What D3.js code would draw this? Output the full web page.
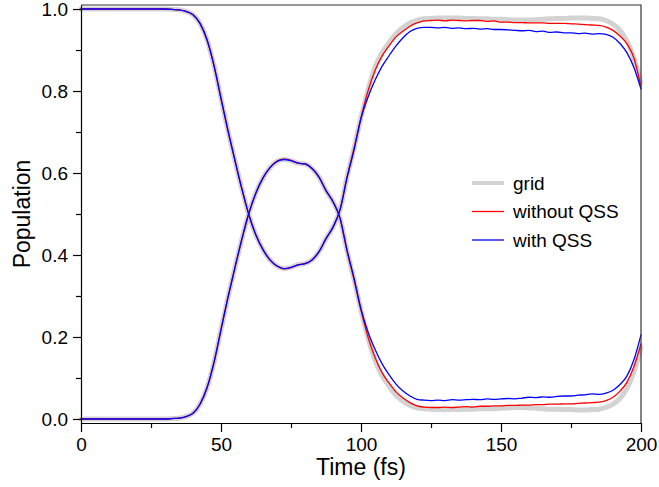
<!DOCTYPE html>
<html>
<head>
<meta charset="utf-8">
<script src="https://cdn.jsdelivr.net/npm/d3@7"></script>
<style>
html,body{margin:0;padding:0;background:#fff;}
svg{display:block;}
text{font-family:"Liberation Sans",Arial,sans-serif;fill:#000;}
</style>
</head>
<body>
<svg id="chart" width="659" height="487"></svg>
<script>
// ---- data ----
const time = [0,2.5,5,7.5,10,12.5,15,17.5,20,22.5,
  25,27.5,30,32.5,35,37.5,40,42.5,45,47.5,
  50,52.5,55,57.5,60,62.5,65,67.5,70,72.5,
  75,77.5,80,82.5,85,87.5,90,92.5,95,97.5,
  100,102.5,105,107.5,110,112.5,115,117.5,120,122.5,
  125,127.5,130,132.5,135,137.5,140,142.5,145,147.5,
  150,152.5,155,157.5,160,162.5,165,167.5,170,172.5,
  175,177.5,180,182.5,185,187.5,190,192.5,195,197.5,200];

// population of state initially occupied (starts at 1)
const gridA = [1,1,1,1,1,1,1,1,1,1,
  1,1,1,0.999,0.998,0.994,0.986,0.965,0.925,0.862,
  0.782,0.703,0.63,0.56,0.497,0.448,0.413,0.388,0.373,0.367,
  0.370,0.376,0.379,0.388,0.408,0.44,0.468,0.51,0.59,0.66,
  0.735,0.802,0.858,0.893,0.918,0.94,0.955,0.966,0.972,0.976,
  0.977,0.978,0.978,0.978,0.978,0.977,0.977,0.976,0.976,0.975,
  0.975,0.974,0.973,0.973,0.973,0.974,0.975,0.976,0.977,0.977,
  0.978,0.978,0.978,0.977,0.976,0.972,0.963,0.948,0.922,0.88,0.82];
const noQssA = [1,1,1,1,1,1,1,1,1,1,
  1,1,1,0.999,0.998,0.994,0.986,0.965,0.925,0.862,
  0.782,0.703,0.63,0.56,0.497,0.448,0.413,0.388,0.373,0.366,
  0.369,0.376,0.379,0.388,0.408,0.44,0.468,0.51,0.59,0.66,
  0.735,0.80,0.85,0.885,0.91,0.932,0.946,0.958,0.966,0.971,
  0.972,0.973,0.971,0.973,0.972,0.971,0.972,0.972,0.970,0.971,
  0.968,0.968,0.967,0.967,0.966,0.966,0.966,0.965,0.965,0.965,
  0.964,0.963,0.962,0.961,0.960,0.956,0.948,0.934,0.915,0.88,0.81];
const qssA = [1,1,1,1,1,1,1,1,1,1,
  1,1,1,0.999,0.998,0.994,0.986,0.965,0.925,0.862,
  0.782,0.703,0.63,0.56,0.497,0.448,0.413,0.388,0.373,0.367,
  0.370,0.376,0.379,0.388,0.408,0.44,0.468,0.51,0.588,0.656,
  0.733,0.785,0.826,0.86,0.886,0.91,0.93,0.945,0.953,0.955,
  0.955,0.954,0.955,0.953,0.954,0.952,0.953,0.951,0.952,0.950,
  0.950,0.949,0.948,0.947,0.948,0.945,0.946,0.943,0.944,0.942,
  0.942,0.940,0.941,0.939,0.940,0.938,0.931,0.916,0.893,0.857,0.805];

// population of state initially empty (starts at 0)
const gridB = [0,0,0,0,0,0,0,0,0,0,
  0,0,0,0.001,0.002,0.006,0.014,0.036,0.076,0.138,
  0.218,0.297,0.37,0.44,0.503,0.552,0.588,0.613,0.628,0.633,
  0.630,0.624,0.622,0.611,0.59,0.557,0.53,0.49,0.41,0.34,
  0.265,0.198,0.143,0.106,0.08,0.058,0.043,0.033,0.027,0.025,
  0.024,0.023,0.023,0.023,0.023,0.024,0.024,0.025,0.025,0.025,
  0.026,0.027,0.028,0.028,0.027,0.026,0.025,0.024,0.024,0.023,
  0.023,0.022,0.022,0.023,0.024,0.028,0.036,0.05,0.075,0.115,0.175];
const noQssB = [0,0,0,0,0,0,0,0,0,0,
  0,0,0,0.001,0.002,0.006,0.014,0.036,0.076,0.138,
  0.218,0.297,0.37,0.44,0.503,0.552,0.588,0.613,0.629,0.634,
  0.631,0.624,0.622,0.611,0.59,0.557,0.53,0.49,0.41,0.34,
  0.265,0.20,0.15,0.113,0.088,0.066,0.051,0.04,0.032,0.029,
  0.028,0.028,0.029,0.028,0.029,0.030,0.029,0.031,0.031,0.032,
  0.032,0.033,0.033,0.034,0.034,0.035,0.035,0.036,0.036,0.037,
  0.037,0.038,0.039,0.040,0.041,0.045,0.053,0.068,0.09,0.128,0.183];
const qssB = [0,0,0,0,0,0,0,0,0,0,
  0,0,0,0.001,0.002,0.006,0.014,0.036,0.076,0.138,
  0.218,0.297,0.37,0.44,0.503,0.552,0.588,0.613,0.628,0.633,
  0.630,0.624,0.622,0.611,0.59,0.557,0.53,0.49,0.412,0.344,
  0.268,0.212,0.17,0.135,0.108,0.085,0.068,0.056,0.048,0.046,
  0.045,0.046,0.045,0.047,0.046,0.047,0.048,0.047,0.049,0.048,
  0.049,0.050,0.049,0.051,0.053,0.052,0.054,0.053,0.055,0.056,
  0.056,0.058,0.059,0.061,0.060,0.063,0.070,0.084,0.105,0.145,0.205];

const xMajor = [0,50,100,150,200];
const xMinor = [25,75,125,175];
const yMajor = [0,0.2,0.4,0.6,0.8,1.0];
const yMinor = [0.1,0.3,0.5,0.7,0.9];
const seriesNames = ["grid","without QSS","with QSS"];
const seriesColors = ["#d3d3d3","#ff0000","#0000ff"];
const seriesWidths = [5,1.3,1.3];

// ---- chart ----
const svg = d3.select("#chart");
const pL = 81, pR = 641, pT = 5, pB = 423;
const x = d3.scaleLinear().domain([0,200]).range([pL,pR]);
const y = d3.scaleLinear().domain([-0.0098,1.0098]).range([pB,pT]);

const series = [
  {name:seriesNames[0], color:seriesColors[0], w:seriesWidths[0], data:[gridA,gridB]},
  {name:seriesNames[1], color:seriesColors[1], w:seriesWidths[1], data:[noQssA,noQssB]},
  {name:seriesNames[2], color:seriesColors[2], w:seriesWidths[2], data:[qssA,qssB]}
];

const line = d3.line().x(d=>x(d[0])).y(d=>y(d[1])).curve(d3.curveMonotoneX);

const g = svg.append("g");
series.forEach((s,i)=>{
  s.data.forEach(arr=>{
    const pts = time.map((t,j)=>[t,arr[j]]);
    g.append("path").datum(pts)
      .attr("d", line)
      .attr("fill","none")
      .attr("stroke",s.color)
      .attr("stroke-width",s.w)
      .attr("stroke-linejoin","round")
      .attr("stroke-linecap","round");
  });
});

// frame (top & right)
svg.append("path")
  .attr("d",`M${pL},${pT}H${pR}V${pB}`)
  .attr("fill","none").attr("stroke","#333").attr("stroke-width",1.2);

// x axis
const xAxis = svg.append("g").attr("transform",`translate(0,${pB})`)
  .call(d3.axisBottom(x).tickValues(xMajor).tickSize(9).tickSizeOuter(0).tickPadding(5).tickFormat(d3.format("d")));
svg.append("g").attr("transform",`translate(0,${pB})`)
  .call(d3.axisBottom(x).tickValues(xMinor).tickSize(5).tickSizeOuter(0).tickFormat(""))
  .select(".domain").remove();
// y axis
const yAxis = svg.append("g").attr("transform",`translate(${pL},0)`)
  .call(d3.axisLeft(y).tickValues(yMajor).tickSize(8).tickSizeOuter(0).tickPadding(5).tickFormat(d3.format(".1f")));
svg.append("g").attr("transform",`translate(${pL},0)`)
  .call(d3.axisLeft(y).tickValues(yMinor).tickSize(5).tickSizeOuter(0).tickFormat(""))
  .select(".domain").remove();

svg.selectAll(".tick line").attr("stroke","#000").attr("stroke-width",1.2);
svg.selectAll(".domain").attr("stroke","#000").attr("stroke-width",1.2);
svg.selectAll(".tick text").attr("font-family","Liberation Sans, Arial, sans-serif").attr("font-size",19).attr("fill","#000");
xAxis.selectAll(".tick text").attr("dy","0.72em");

// axis titles
svg.append("text").attr("x",(pL+pR)/2).attr("y",475)
  .attr("text-anchor","middle").attr("font-size",23).text("Time (fs)");
svg.append("text").attr("transform",`translate(30,${(pT+pB)/2}) rotate(-90)`)
  .attr("text-anchor","middle").attr("font-size",23).text("Population");

// legend
const leg = svg.append("g");
const rows = [183,211.5,240];
series.forEach((s,i)=>{
  leg.append("line").attr("x1",472).attr("x2",504).attr("y1",rows[i]).attr("y2",rows[i])
    .attr("stroke",s.color).attr("stroke-width",i===0?4:1.3);
  leg.append("text").attr("x",513).attr("y",rows[i]).attr("dy","0.35em")
    .attr("font-size",19).text(s.name);
});
</script>
</body>
</html>
